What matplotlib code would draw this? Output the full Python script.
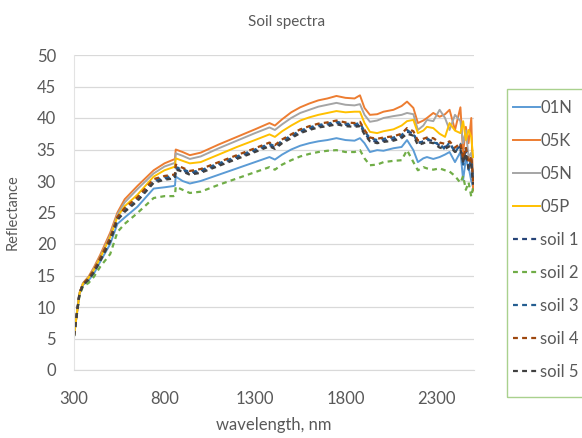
import matplotlib
matplotlib.use("Agg")
import matplotlib.pyplot as plt
from matplotlib.patches import Rectangle

plt.rcParams['font.family'] = ['Lato', 'DejaVu Sans']

wavelength = [300, 330, 350, 380, 410, 445, 500, 540, 580, 650, 740, 800, 850, 858, 862,
              900, 940, 1000, 1100, 1200, 1300, 1380, 1410, 1450, 1500, 1550, 1600, 1650,
              1700, 1750, 1800, 1850, 1880, 1905, 1935, 1975, 2010, 2065, 2110, 2140, 2175,
              2200, 2230, 2250, 2285, 2320, 2350, 2375, 2405, 2435, 2450, 2465, 2480, 2495, 2505]

r_01N = [5.4, 12.0, 13.5, 14.2, 15.3, 17.2, 20.0, 23.2, 24.2, 25.9, 28.8, 29.0, 29.2, 29.3, 30.7,
         30.0, 29.6, 30.0, 31.0, 32.0, 33.0, 33.8, 33.4, 34.2, 35.0, 35.6, 36.0, 36.3,
         36.5, 36.8, 36.5, 36.4, 36.8, 36.0, 34.6, 34.9, 34.8, 35.2, 35.4, 36.5, 34.9,
         33.0, 33.6, 33.8, 33.5, 33.8, 34.2, 34.6, 33.0, 34.6, 30.2, 33.5, 32.2, 30.0, 29.0]

r_05K = [5.4, 12.2, 13.8, 14.8, 16.3, 18.3, 21.8, 25.0, 27.1, 29.2, 31.7, 32.8, 33.4, 33.5, 35.0,
         34.6, 34.1, 34.5, 35.8, 37.0, 38.2, 39.2, 38.8, 39.8, 40.9, 41.7, 42.3, 42.8,
         43.1, 43.5, 43.2, 43.1, 43.6, 41.6, 40.5, 40.6, 41.0, 41.3, 41.9, 42.6, 41.6,
         39.2, 39.6, 40.0, 40.8, 40.2, 40.6, 41.3, 38.1, 41.7, 34.4, 38.6, 36.0, 40.0, 28.5]

r_05N = [5.4, 12.2, 13.8, 14.7, 16.1, 18.0, 21.4, 24.7, 26.6, 28.7, 31.2, 32.3, 32.8, 32.9, 34.4,
         34.0, 33.5, 33.9, 35.2, 36.4, 37.6, 38.5, 38.1, 39.0, 40.0, 40.8, 41.3, 41.8,
         42.1, 42.4, 42.1, 42.0, 42.2, 40.5, 39.4, 39.6, 40.0, 40.3, 40.5, 40.8, 40.6,
         38.1, 38.8, 39.7, 39.5, 41.3, 40.0, 38.1, 40.5, 39.5, 36.0, 38.0, 33.8, 34.5, 30.6]

r_05P = [5.4, 12.1, 13.7, 14.6, 15.9, 17.8, 21.1, 24.3, 26.0, 27.8, 30.7, 31.7, 32.2, 32.3, 33.6,
         33.2, 32.8, 33.0, 34.2, 35.4, 36.5, 37.4, 37.0, 37.9, 38.8, 39.6, 40.1, 40.5,
         40.8, 41.1, 40.9, 41.0, 41.0, 39.2, 37.8, 37.6, 37.9, 38.2, 38.8, 39.5, 39.7,
         37.6, 38.0, 38.6, 38.4, 37.5, 37.0, 39.2, 38.0, 37.6, 39.5, 36.5, 38.1, 37.0, 33.8]

r_soil1 = [5.4, 12.1, 13.6, 14.4, 15.6, 17.5, 20.6, 24.0, 25.3, 27.0, 29.9, 30.4, 30.6, 30.7, 32.0,
           31.7, 31.2, 31.5, 32.6, 33.7, 34.8, 35.7, 35.3, 36.2, 37.0, 37.8, 38.3, 38.7,
           38.9, 39.2, 38.9, 38.8, 38.9, 37.6, 36.5, 36.2, 36.4, 36.6, 37.0, 37.8, 37.6,
           36.0, 36.3, 36.5, 36.4, 35.6, 35.4, 35.8, 34.9, 35.5, 33.0, 34.8, 32.2, 33.0, 29.7]

r_soil2 = [5.4, 11.8, 13.3, 13.8, 14.8, 16.4, 18.4, 21.9, 23.2, 24.9, 27.3, 27.6, 27.6, 27.7, 29.1,
           28.6, 28.1, 28.3, 29.4, 30.4, 31.4, 32.2, 31.8, 32.6, 33.3, 33.9, 34.3, 34.6,
           34.8, 34.9, 34.6, 34.6, 34.9, 33.6, 32.5, 32.6, 33.0, 33.2, 33.3, 34.9, 33.0,
           31.7, 32.2, 32.0, 31.8, 32.0, 31.7, 31.5, 30.8, 29.7, 30.8, 28.6, 29.8, 27.5, 29.0]

r_soil3 = [5.4, 12.1, 13.6, 14.5, 15.7, 17.6, 20.8, 24.1, 25.5, 27.2, 30.1, 30.6, 30.8, 30.9, 32.2,
           31.9, 31.4, 31.7, 32.8, 33.9, 35.0, 35.9, 35.5, 36.4, 37.2, 38.0, 38.5, 38.9,
           39.1, 39.4, 39.1, 39.0, 39.2, 37.9, 36.8, 36.5, 36.7, 36.9, 37.3, 38.1, 37.4,
           36.3, 36.0, 36.8, 36.1, 35.9, 35.0, 36.2, 34.5, 35.9, 32.6, 35.2, 31.8, 33.6, 30.2]

r_soil4 = [5.4, 12.2, 13.7, 14.6, 15.9, 17.8, 21.0, 24.3, 25.7, 27.4, 30.3, 30.8, 31.0, 31.1, 32.6,
           32.1, 31.6, 31.9, 33.0, 34.1, 35.2, 36.1, 35.7, 36.6, 37.4, 38.2, 38.7, 39.1,
           39.3, 39.6, 39.3, 39.2, 39.4, 38.1, 36.9, 36.7, 36.9, 37.1, 37.5, 38.4, 37.9,
           36.4, 36.7, 36.9, 36.8, 36.1, 35.9, 36.3, 35.3, 36.0, 33.5, 35.4, 32.8, 34.0, 30.0]

r_soil5 = [5.4, 12.0, 13.5, 14.3, 15.5, 17.3, 20.4, 23.8, 25.1, 26.8, 29.7, 30.2, 30.4, 30.5, 31.8,
           31.5, 31.0, 31.3, 32.4, 33.5, 34.6, 35.5, 35.1, 36.0, 36.8, 37.6, 38.1, 38.5,
           38.7, 39.0, 38.7, 38.6, 38.7, 37.4, 36.3, 36.0, 36.2, 36.4, 36.8, 37.5, 37.2,
           35.7, 36.0, 36.2, 36.0, 35.3, 35.1, 35.5, 34.6, 35.1, 32.8, 34.4, 31.9, 32.6, 29.4]

solid_names = ['01N', '05K', '05N', '05P']
solid_values = [r_01N, r_05K, r_05N, r_05P]
solid_colors = ['#5B9BD5', '#ED7D31', '#A5A5A5', '#FFC000']

dash_names = ['soil 1', 'soil 2', 'soil 3', 'soil 4', 'soil 5']
dash_values = [r_soil1, r_soil2, r_soil3, r_soil4, r_soil5]
dash_colors = ['#264478', '#70AD47', '#255E91', '#9E480E', '#404040']

x_ticks = [300, 800, 1300, 1800, 2300]
y_ticks = [0, 5, 10, 15, 20, 25, 30, 35, 40, 45, 50]

W, H = 582, 438
TXT = '#595959'
fig = plt.figure(figsize=(W / 100, H / 100), dpi=100)
ax = fig.add_axes([74 / W, 1 - 370 / H, 400 / W, 315 / H])

handles = []
for name, vals, col in zip(solid_names, solid_values, solid_colors):
    h, = ax.plot(wavelength, vals, color=col, lw=1.4, label=name, solid_joinstyle='round')
    handles.append(h)
for name, vals, col in zip(dash_names, dash_values, dash_colors):
    h, = ax.plot(wavelength, vals, color=col, lw=1.6, linestyle=(0, (2.2, 1.9)), label=name)
    handles.append(h)

ax.set_xlim(300, 2510)
ax.set_ylim(0, 50)
ax.set_xticks(x_ticks)
ax.set_yticks(y_ticks)
ax.tick_params(axis='both', length=0, labelsize=12, colors=TXT)
ax.tick_params(axis='x', pad=15)
ax.tick_params(axis='y', pad=13)
ax.grid(axis='y', color='#D9D9D9', lw=0.9)
ax.set_axisbelow(True)
for s in ['top', 'right']:
    ax.spines[s].set_visible(False)
ax.spines['left'].set_color('#E3E3E3')
ax.spines['bottom'].set_color('#D9D9D9')

ax.set_xlabel('wavelength, nm', fontsize=12, color=TXT, labelpad=7)
ax.set_ylabel('Reflectance', fontsize=10.5, color=TXT, labelpad=12)
fig.text(287 / W, 1 - 22 / H, 'Soil spectra', ha='center', va='center', fontsize=11, color=TXT)

leg = fig.legend(handles=handles, loc='upper left', bbox_to_anchor=(513 / W, 1 - 100 / H),
                 fontsize=12, frameon=False, handlelength=1.6, handletextpad=0.05,
                 labelspacing=1.02, borderpad=0, borderaxespad=0)
for t in leg.get_texts():
    t.set_color(TXT)
fig.patches.append(Rectangle((507 / W, 1 - 397 / H), 100 / W, 308 / H, transform=fig.transFigure,
                             fill=False, edgecolor='#A9D18E', lw=1.0))

fig.savefig('out.png', dpi=100)
